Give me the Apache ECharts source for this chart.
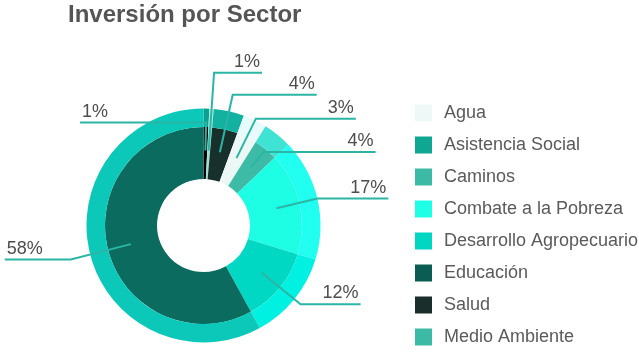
<!DOCTYPE html>
<html>
<head>
<meta charset="utf-8">
<script src="https://cdn.jsdelivr.net/npm/echarts@6/dist/echarts.min.js"></script>
<style>
  html, body { margin: 0; padding: 0; background: #fff; }
  #chart { width: 639px; height: 352px; }
</style>
</head>
<body>
<div id="chart"></div>
<script>
  // sectors in drawing order (clockwise from 12 o'clock)
  const sectors = ['Asistencia Social', 'Medio Ambiente', 'Salud', 'Agua', 'Caminos',
    'Combate a la Pobreza', 'Desarrollo Agropecuario', 'Educación'];
  const investShare = [0.8, 0.6, 4.2, 3.3, 4.0, 16.8, 12.3, 58.0];
  const legendNames = ['Agua', 'Asistencia Social', 'Caminos', 'Combate a la Pobreza',
    'Desarrollo Agropecuario', 'Educación', 'Salud', 'Medio Ambiente'];

  const innerColors = {
    'Asistencia Social': '#030303', 'Medio Ambiente': '#9fe2d6', 'Salud': '#18302c',
    'Agua': '#ebf8f6', 'Caminos': '#3dbba6', 'Combate a la Pobreza': '#1efee4',
    'Desarrollo Agropecuario': '#00d8c4', 'Educación': '#0c6b5f'
  };
  const outerColors = {
    'Asistencia Social': '#0ba08f', 'Medio Ambiente': '#a3eadf', 'Salud': '#12b1a0',
    'Agua': '#e6fbfa', 'Caminos': '#3fe2d3', 'Combate a la Pobreza': '#20fff0',
    'Desarrollo Agropecuario': '#00f0e2', 'Educación': '#0cc8b8'
  };
  const legendColors = {
    'Agua': '#eef8f6', 'Asistencia Social': '#10a792', 'Caminos': '#3dbaa5',
    'Combate a la Pobreza': '#1effe6', 'Desarrollo Agropecuario': '#00d6c1',
    'Educación': '#0b5c52', 'Salud': '#1a2f2c', 'Medio Ambiente': '#3dbaa5'
  };
  // label line lengths [first segment, horizontal segment]
  const lineLen = {
    'Asistencia Social': [28, 126], 'Medio Ambiente': [78, 48], 'Salud': [59, 84],
    'Agua': [44, 100], 'Caminos': [20, 112], 'Combate a la Pobreza': [42, 71],
    'Desarrollo Agropecuario': [50, 60], 'Educación': [62, 66]
  };
  const flipLeft = ['Asistencia Social'];

  const center = [203.5, 225.5];
  const font = '"Liberation Sans", Arial, sans-serif';

  const myChart = echarts.init(document.getElementById('chart'));

  function ringData(colors) {
    return sectors.map((name, i) => ({
      name: name,
      value: investShare[i],
      itemStyle: { color: colors[name] }
    }));
  }

  const labelData = sectors.map((name, i) => ({
    name: name,
    value: investShare[i],
    labelLine: { length: lineLen[name][0], length2: lineLen[name][1] }
  }));

  const option = {
    animation: false,
    title: {
      text: 'Inversión por Sector',
      left: 68,
      top: 3,
      padding: 0,
      textStyle: { fontFamily: font, fontSize: 24, fontWeight: 'bold', color: '#555' }
    },
    legend: {
      orient: 'vertical',
      left: 415,
      top: 104,
      padding: 0,
      itemWidth: 17,
      itemHeight: 17,
      itemGap: 14,
      icon: 'rect',
      selectedMode: false,
      textStyle: { fontFamily: font, fontSize: 18, color: '#5a5a5a', lineHeight: 17, padding: [0, 0, 0, 7] },
      data: legendNames.map(n => ({ name: n, itemStyle: { color: legendColors[n] } }))
    },
    series: [
      {
        name: 'inner',
        type: 'pie',
        center: center,
        radius: [46.5, 98.5],
        startAngle: 90,
        z: 2,
        label: { show: false },
        labelLine: { show: false },
        emphasis: { disabled: true },
        data: ringData(innerColors)
      },
      {
        name: 'outer',
        type: 'pie',
        center: center,
        radius: [98.5, 117],
        startAngle: 90,
        z: 2,
        silent: true,
        label: { show: false },
        labelLine: { show: false },
        data: ringData(outerColors)
      },
      {
        name: 'labels',
        type: 'pie',
        center: center,
        radius: [46.5, 75],
        startAngle: 90,
        z: 6,
        silent: true,
        avoidLabelOverlap: false,
        itemStyle: { color: 'rgba(0,0,0,0)' },
        label: {
          show: true,
          position: 'outside',
          fontFamily: font,
          fontSize: 18,
          color: '#4d4d4d',
          formatter: p => Math.round(p.percent) + '%'
        },
        labelLine: {
          show: true,
          lineStyle: { color: '#2bb5a5', width: 2 }
        },
        labelLayout: function (p) {
          const pts = p.labelLinePoints;
          if (!pts) return {};
          const name = sectors[p.dataIndex];
          if (flipLeft.indexOf(name) >= 0) {
            pts[2] = [2 * pts[1][0] - pts[2][0], pts[2][1]];
          }
          const toRight = pts[2][0] > pts[1][0];
          return {
            x: pts[2][0] + (toRight ? -2 : 2),
            y: pts[2][1] - 2,
            align: toRight ? 'right' : 'left',
            verticalAlign: 'bottom',
            labelLinePoints: pts
          };
        },
        data: labelData
      }
    ]
  };

  myChart.setOption(option);
</script>
</body>
</html>
